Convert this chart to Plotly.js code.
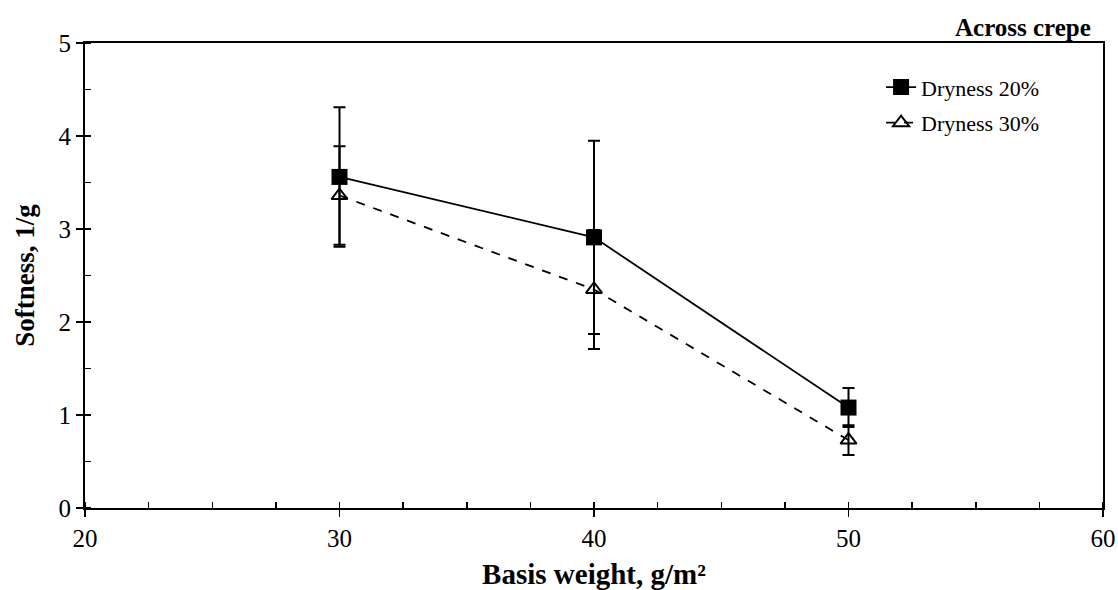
<!DOCTYPE html>
<html>
<head>
<meta charset="utf-8">
<script src="https://cdn.plot.ly/plotly-3.0.1.min.js"></script>
<style>html,body{margin:0;padding:0;background:#fff;}#chart{width:1118px;height:590px;}</style>
</head>
<body>
<div id="chart"></div>
<script>
const basisWeight = [30, 40, 50];
const dry20 = [3.56, 2.91, 1.08];
const dry20Err = [0.75, 1.04, 0.21];
const dry30 = [3.36, 2.35, 0.73];
const dry30Err = [0.53, 0.64, 0.16];
const seriesNames = ["Dryness 20%", "Dryness 30%"];

const font = "Liberation Serif";

const traces = [
  {
    x: basisWeight, y: dry20, name: seriesNames[0], type: "scatter", mode: "lines+markers", legendgroup: "a",
    line: {color: "#000", width: 1.8},
    marker: {symbol: "square", size: 16, color: "#000"},
    error_y: {type: "data", array: dry20Err, visible: true, color: "#000", thickness: 2, width: 6}
  },
  {
    x: basisWeight, y: dry30, name: seriesNames[1], type: "scatter", mode: "lines+markers", legendgroup: "b",
    line: {color: "#000", width: 1.8, dash: "dash"},
    marker: {symbol: "triangle-up-open", size: 14, color: "#000", line: {width: 2, color: "#000"}},
    error_y: {type: "data", array: dry30Err, visible: true, color: "#000", thickness: 2, width: 6}
  },
  {x: [], y: [], xaxis: "x2", yaxis: "y2", showlegend: false, hoverinfo: "skip", type: "scatter"}
];

const layout = {
  width: 1118, height: 590,
  paper_bgcolor: "#fff", plot_bgcolor: "#fff",
  margin: {l: 85, r: 15, t: 43, b: 82},
  font: {family: font, color: "#000", size: 22},
  showlegend: true,
  legend: {x: 0.782, y: 0.95, xanchor: "left", yanchor: "top", font: {family: font, size: 22, color: "#000"},
           bgcolor: "rgba(0,0,0,0)", itemwidth: 30, traceorder: "grouped", tracegroupgap: 4},
  xaxis: {
    range: [20, 60], dtick: 10, tick0: 20, showgrid: false, zeroline: false,
    showline: true, linecolor: "#000", linewidth: 2, mirror: true,
    ticks: "outside", ticklen: 7, tickwidth: 1.5, tickcolor: "#000",
    tickfont: {family: font, size: 25},
    minor: {dtick: 2.5, ticks: "inside", ticklen: 6, tickwidth: 1.5, tickcolor: "#000", showgrid: false},
    title: {text: "<b>Basis weight, g/m²</b>", font: {family: font, size: 29}, standoff: 15}
  },
  yaxis: {
    range: [0, 5], dtick: 1, showgrid: false, zeroline: false,
    showline: true, linecolor: "#000", linewidth: 2, mirror: true,
    ticks: "outside", ticklen: 7, tickwidth: 1.5, tickcolor: "#000",
    tickfont: {family: font, size: 25},
    minor: {dtick: 0.5, ticks: "inside", ticklen: 6, tickwidth: 1.5, tickcolor: "#000", showgrid: false},
    title: {text: "<b>Softness, 1/g</b>", font: {family: font, size: 27}, standoff: 16}
  },
  xaxis2: {overlaying: "x", range: [20, 60], dtick: 10, tick0: 20, showgrid: false, zeroline: false,
           showline: false, ticks: "inside", ticklen: 5, tickwidth: 1.5, tickcolor: "#000", showticklabels: false, side: "bottom"},
  yaxis2: {overlaying: "y", range: [0, 5], dtick: 1, showgrid: false, zeroline: false,
           showline: false, ticks: "inside", ticklen: 5, tickwidth: 1.5, tickcolor: "#000", showticklabels: false, side: "left"},
  annotations: [
    {text: "<b>Across crepe</b>", xref: "paper", yref: "paper", x: 0.99, y: 1.0, xanchor: "right", yanchor: "bottom",
     yshift: 0, showarrow: false, font: {family: font, size: 25, color: "#000"}}
  ]
};

Plotly.newPlot("chart", traces, layout, {displayModeBar: false, staticPlot: true});
</script>
</body>
</html>
